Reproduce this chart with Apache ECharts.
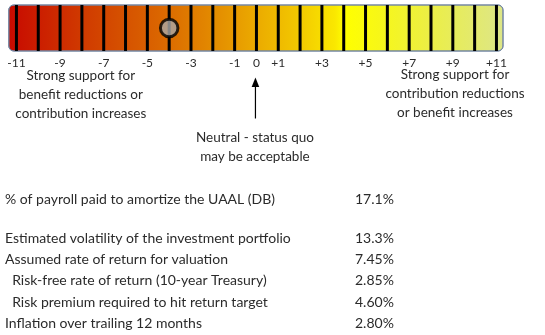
<!DOCTYPE html>
<html>
<head>
<meta charset="utf-8">
<script src="https://cdn.jsdelivr.net/npm/echarts@6/dist/echarts.min.js"></script>
<style>
  html, body { margin: 0; padding: 0; background: #fff; }
  #chart { width: 545px; height: 335px; }
</style>
</head>
<body>
<div id="chart"></div>
<script>
// Scale positions from -11 to +11 and the labelled ticks
const scalePoints = [-11,-10,-9,-8,-7,-6,-5,-4,-3,-2,-1,0,1,2,3,4,5,6,7,8,9,10,11];
const tickValues = [-11,-9,-7,-5,-3,-1,0,1,3,5,7,9,11];
const tickLabels = ['-11','-9','-7','-5','-3','-1','0','+1','+3','+5','+7','+9','+11'];

// Current reading on the scale
const currentScore = -4;

// Annotation text
const leftNote = ['Strong support for', 'benefit reductions or', 'contribution increases'];
const rightNote = ['Strong support for', 'contribution reductions', 'or benefit increases'];
const neutralNote = ['Neutral - status quo', 'may be acceptable'];

// Key indicators
const indicatorLabels = [
  '% of payroll paid to amortize the UAAL (DB)',
  'Estimated volatility of the investment portfolio',
  'Assumed rate of return for valuation',
  '  Risk-free rate of return (10-year Treasury)',
  '  Risk premium required to hit return target',
  'Inflation over trailing 12 months'
];
const indicatorValues = ['17.1%', '13.3%', '7.45%', '2.85%', '4.60%', '2.80%'];

const FONT = 'Lato, "Open Sans", sans-serif';
const TEXT = '#2b2b2b';

const chart = echarts.init(document.getElementById('chart'), null, { renderer: 'canvas' });

const bandGradient = new echarts.graphic.LinearGradient(0, 0, 1, 0, [
  { offset: 0.00, color: '#c80a00' },
  { offset: 0.15, color: '#d03a00' },
  { offset: 0.30, color: '#da6400' },
  { offset: 0.40, color: '#e28600' },
  { offset: 0.50, color: '#ebaa00' },
  { offset: 0.58, color: '#f2c600' },
  { offset: 0.66, color: '#fae800' },
  { offset: 0.68, color: '#ffff00' },
  { offset: 0.75, color: '#f7f718' },
  { offset: 0.85, color: '#ecef45' },
  { offset: 1.00, color: '#dde688' }
]);

chart.setOption({
  animation: false,
  grid: { left: 8.8, top: 5, width: 494.2, height: 46 },
  xAxis: {
    type: 'value',
    min: -11.35,
    max: 11.3,
    axisLine: { show: false },
    axisTick: { show: false },
    splitLine: { show: false },
    axisLabel: {
      customValues: tickValues,
      formatter: v => tickLabels[tickValues.indexOf(v)],
      margin: 6,
      fontFamily: FONT,
      fontSize: 12,
      color: TEXT
    }
  },
  yAxis: { type: 'value', min: 0, max: 1, show: false },
  series: [
    {
      // coloured band behind the scale
      type: 'custom',
      silent: true,
      data: [[-11.35, 11.3]],
      renderItem: (params, api) => {
        const a = api.coord([api.value(0), 1]);
        const b = api.coord([api.value(1), 0]);
        return {
          type: 'rect',
          shape: { x: a[0], y: a[1], width: b[0] - a[0], height: b[1] - a[1], r: 5 },
          style: { fill: bandGradient, stroke: '#7487a3', lineWidth: 1 }
        };
      },
      z: 1
    },
    {
      // one divider per scale point
      type: 'custom',
      silent: true,
      data: scalePoints.map(v => [v]),
      renderItem: (params, api) => {
        const top = api.coord([api.value(0), 1]);
        const bottom = api.coord([api.value(0), 0]);
        return {
          type: 'line',
          shape: { x1: top[0], y1: top[1], x2: bottom[0], y2: bottom[1] },
          style: { stroke: '#000', lineWidth: 3 }
        };
      },
      z: 2
    },
    {
      type: 'scatter',
      data: [[currentScore, 0.5]],
      symbol: 'circle',
      symbolSize: 17.5,
      itemStyle: { color: '#a9a9a9', borderColor: '#000', borderWidth: 3 },
      z: 3
    }
  ]
});

// Annotations and indicator table
const zeroX = chart.convertToPixel({ gridIndex: 0 }, [0, 0])[0];
const leftX = chart.convertToPixel({ gridIndex: 0 }, [-8.05, 0])[0];
const rightX = chart.convertToPixel({ gridIndex: 0 }, [9.1, 0])[0];

const lineSpacing = 19;
const textEl = (str, x, y, align, size) => ({
  type: 'text',
  x: x, y: y,
  style: {
    text: str, fill: TEXT, font: size + 'px ' + FONT,
    align: align, verticalAlign: 'middle'
  }
});

const elements = [];
leftNote.forEach((s, i) => elements.push(textEl(s, leftX, 75.5 + i * lineSpacing, 'center', 13.5)));
rightNote.forEach((s, i) => elements.push(textEl(s, rightX, 74.5 + i * lineSpacing, 'center', 13.5)));
neutralNote.forEach((s, i) => elements.push(textEl(s, zeroX - 1.5, 138 + i * 18.5, 'center', 13.5)));

// arrow pointing up at the neutral point
elements.push({
  type: 'line',
  shape: { x1: zeroX - 1, y1: 84, x2: zeroX - 1, y2: 118.5 },
  style: { stroke: '#000', lineWidth: 1.2 }
});
elements.push({
  type: 'polygon',
  shape: { points: [[zeroX - 1, 77.5], [zeroX - 4.8, 87], [zeroX + 2.8, 87]] },
  style: { fill: '#000' }
});

indicatorLabels.forEach((s, i) => {
  const y = i === 0 ? 199 : 238.3 + (i - 1) * 21.25;
  elements.push(textEl(s, 5, y, 'left', 14));
  elements.push(textEl(indicatorValues[i], 355, y, 'left', 14));
});

chart.setOption({ graphic: { elements: elements } });
</script>
</body>
</html>
